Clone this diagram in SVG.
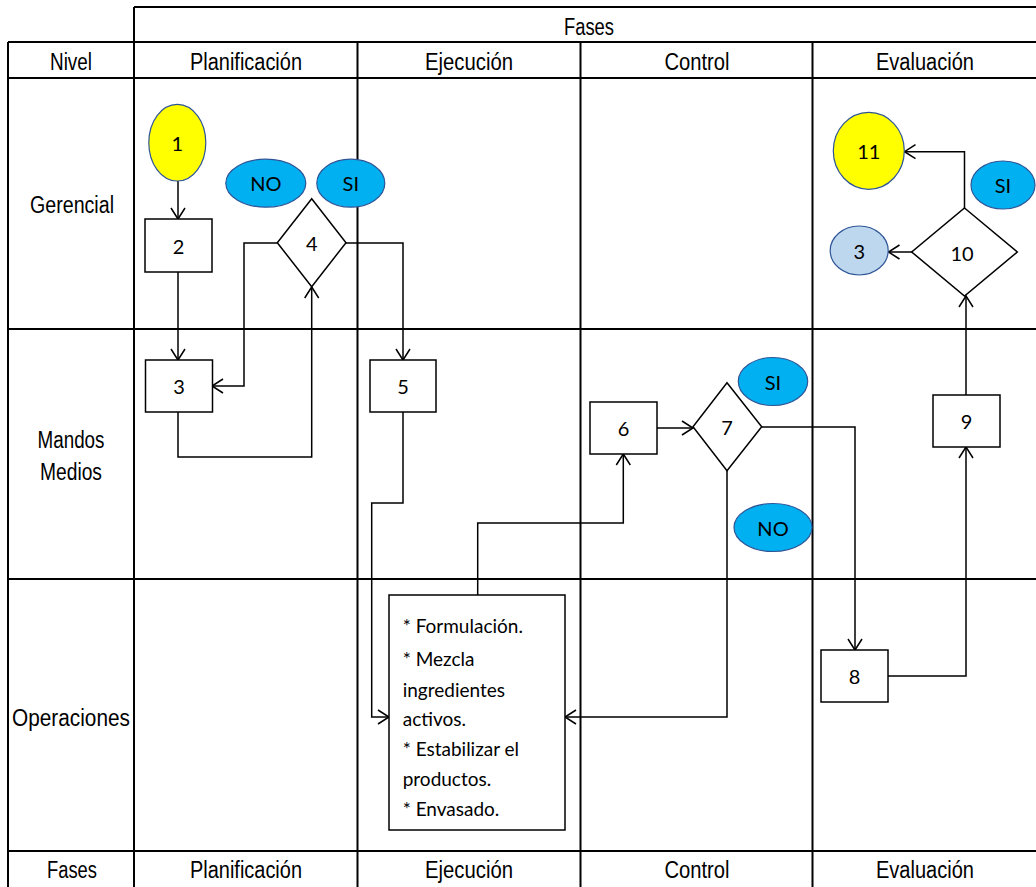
<svg xmlns="http://www.w3.org/2000/svg" width="1036" height="887" viewBox="0 0 1036 887">
<defs>
<style>
.grid{stroke:#000;stroke-width:2;fill:none}
.hdr{font-family:"Liberation Sans",Arial,sans-serif;font-size:23px;fill:#000;text-anchor:middle}
.lbl{font-family:Lato,"Liberation Sans",sans-serif;font-size:20px;fill:#000;text-anchor:middle;dominant-baseline:central}
.txt{font-family:Lato,"Liberation Sans",sans-serif;font-size:19px;fill:#000}
.box{fill:#fff;stroke:#000;stroke-width:1.5}
.yel{fill:#FFFF00;stroke:#2F5597;stroke-width:1.2}
.blu{fill:#00B0F0;stroke:#2F5597;stroke-width:1.2}
.lbl2{fill:#BDD7EE;stroke:#2F5597;stroke-width:1.2}
.con{fill:none;stroke:#000;stroke-width:1.5}
</style>
<marker id="arr" markerUnits="userSpaceOnUse" markerWidth="14" markerHeight="16" refX="12" refY="8" orient="auto">
<path d="M1,1 L12,8 L1,15" fill="none" stroke="#000" stroke-width="1.5"/>
</marker>
</defs>
<rect width="1036" height="887" fill="#fff"/>
<g id="grid" class="grid">
<path d="M134,7 H1036"/>
<path d="M8,42 H1036"/>
<path d="M8,78 H1036"/>
<path d="M8,329 H1036"/>
<path d="M8,579 H1036"/>
<path d="M8,851 H1036"/>
<path d="M8,42 V887"/>
<path d="M134,7 V887"/>
<path d="M357.5,42 V887"/>
<path d="M580.5,42 V887"/>
<path d="M812.5,42 V887"/>
</g>
<g id="headers">
<text class="hdr" x="589" y="35" textLength="50" lengthAdjust="spacingAndGlyphs">Fases</text>
<text class="hdr" x="71" y="70" textLength="42" lengthAdjust="spacingAndGlyphs">Nivel</text>
<text class="hdr" x="246" y="70" textLength="112" lengthAdjust="spacingAndGlyphs">Planificación</text>
<text class="hdr" x="469" y="70" textLength="88" lengthAdjust="spacingAndGlyphs">Ejecución</text>
<text class="hdr" x="697" y="70" textLength="65" lengthAdjust="spacingAndGlyphs">Control</text>
<text class="hdr" x="925" y="70" textLength="98" lengthAdjust="spacingAndGlyphs">Evaluación</text>
<text class="hdr" x="72" y="213" textLength="84" lengthAdjust="spacingAndGlyphs">Gerencial</text>
<text class="hdr" x="71" y="448" textLength="67" lengthAdjust="spacingAndGlyphs">Mandos</text>
<text class="hdr" x="71" y="480" textLength="62" lengthAdjust="spacingAndGlyphs">Medios</text>
<text class="hdr" x="71" y="726" textLength="118" lengthAdjust="spacingAndGlyphs">Operaciones</text>
<text class="hdr" x="72" y="878" textLength="50" lengthAdjust="spacingAndGlyphs">Fases</text>
<text class="hdr" x="246" y="878" textLength="112" lengthAdjust="spacingAndGlyphs">Planificación</text>
<text class="hdr" x="469" y="878" textLength="88" lengthAdjust="spacingAndGlyphs">Ejecución</text>
<text class="hdr" x="697" y="878" textLength="65" lengthAdjust="spacingAndGlyphs">Control</text>
<text class="hdr" x="925" y="878" textLength="98" lengthAdjust="spacingAndGlyphs">Evaluación</text>
</g>
<g id="connectors" class="con">
<path d="M178,181 V219" marker-end="url(#arr)"/>
<path d="M178,272 V360" marker-end="url(#arr)"/>
<path d="M178,412 V457 H311.7 V287" marker-end="url(#arr)"/>
<path d="M277.3,243 H244 V386 H212" marker-end="url(#arr)"/>
<path d="M346,243 H403 V360" marker-end="url(#arr)"/>
<path d="M403,412 V503 H371.7 V717 H389" marker-end="url(#arr)"/>
<path d="M477.7,595 V523 H623.3 V454" marker-end="url(#arr)"/>
<path d="M657,428 H693" marker-end="url(#arr)"/>
<path d="M761.7,427 H855 V650" marker-end="url(#arr)"/>
<path d="M727,471 V717 H565" marker-end="url(#arr)"/>
<path d="M888,676 H966 V447" marker-end="url(#arr)"/>
<path d="M966,395 V296" marker-end="url(#arr)"/>
<path d="M912,252 H888.5" marker-end="url(#arr)"/>
<path d="M964.5,208 V151.7 H904.5" marker-end="url(#arr)"/>
</g>
<g id="n1"><ellipse class="yel" cx="177.3" cy="142.7" rx="28.5" ry="38.3"/><text class="lbl" x="177.3" y="142.7">1</text></g>
<g id="n2"><rect class="box" x="145" y="219" width="67" height="53"/><text class="lbl" x="178.5" y="245.5">2</text></g>
<g id="no1"><ellipse class="blu" cx="265.8" cy="183.2" rx="40" ry="24"/><text class="lbl" x="265.8" y="183.2">NO</text></g>
<g id="si1"><ellipse class="blu" cx="350.8" cy="183.2" rx="34" ry="24"/><text class="lbl" x="350.8" y="183.2">SI</text></g>
<g id="n4"><path class="box" d="M311.7,198.7 L346,242.7 L311.7,286.7 L277.3,242.7 Z"/><text class="lbl" x="311.7" y="243">4</text></g>
<g id="n3"><rect class="box" x="145.5" y="360" width="67" height="52"/><text class="lbl" x="179" y="386">3</text></g>
<g id="n5"><rect class="box" x="370" y="360" width="66" height="52"/><text class="lbl" x="403" y="386">5</text></g>
<g id="n6"><rect class="box" x="590" y="402" width="67" height="52"/><text class="lbl" x="623.5" y="428">6</text></g>
<g id="n7"><path class="box" d="M727,382.7 L761.7,426.7 L727,470.7 L693,426.7 Z"/><text class="lbl" x="727" y="427">7</text></g>
<g id="si2"><ellipse class="blu" cx="773" cy="381.5" rx="34.7" ry="24"/><text class="lbl" x="773" y="381.5">SI</text></g>
<g id="no2"><ellipse class="blu" cx="773" cy="527.5" rx="39" ry="24"/><text class="lbl" x="773" y="527.5">NO</text></g>
<g id="tb">
<rect class="box" x="389" y="595" width="176" height="235"/>
<text class="txt" x="402.7" y="633">* Formulación.</text>
<text class="txt" x="402.7" y="666">* Mezcla</text>
<text class="txt" x="402.7" y="697">ingredientes</text>
<text class="txt" x="402.7" y="726">activos.</text>
<text class="txt" x="402.7" y="756">* Estabilizar el</text>
<text class="txt" x="402.7" y="786">productos.</text>
<text class="txt" x="402.7" y="816">* Envasado.</text>
</g>
<g id="n8"><rect class="box" x="821" y="650" width="67" height="52"/><text class="lbl" x="854.5" y="676">8</text></g>
<g id="n9"><rect class="box" x="933" y="395" width="67" height="52"/><text class="lbl" x="966.5" y="421">9</text></g>
<g id="n10"><path class="box" d="M964.5,208 L1017.3,252 L964.5,296 L911.7,252 Z"/><text class="lbl" x="962" y="253">10</text></g>
<g id="n11"><ellipse class="yel" cx="868.8" cy="150.8" rx="35.5" ry="38.5"/><text class="lbl" x="868.8" y="150.8">11</text></g>
<g id="n3b"><ellipse class="lbl2" cx="859.2" cy="250.5" rx="29" ry="24.5"/><text class="lbl" x="859.2" y="250.5">3</text></g>
<g id="si3"><ellipse class="blu" cx="1003" cy="185" rx="32" ry="24"/><text class="lbl" x="1003" y="185">SI</text></g>
</svg>
